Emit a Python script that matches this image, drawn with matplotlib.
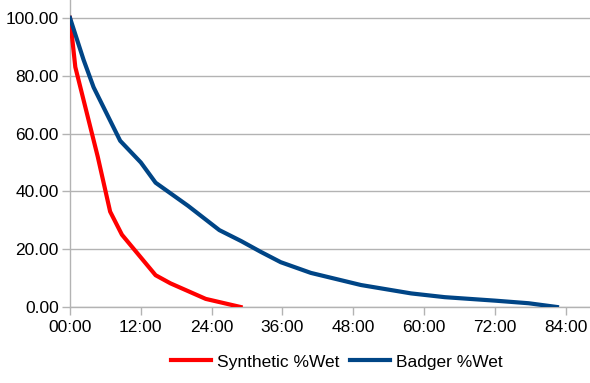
import matplotlib
matplotlib.use("Agg")
import matplotlib.pyplot as plt
from matplotlib.ticker import FuncFormatter, MultipleLocator

# Data (x in hours)
synthetic_hours = [0, 0.9, 4.7, 6.8, 8.8, 14.5, 17.0, 23.0, 28.9]
synthetic_wet = [100, 83, 52, 33, 25, 11, 8.2, 2.8, 0.0]

badger_hours = [0, 2.3, 4.0, 8.5, 12.0, 14.5, 20.0, 25.3, 29.0, 32.3, 35.7,
                40.8, 49.3, 57.8, 63.5, 72.0, 77.7, 82.5]
badger_wet = [100, 85.5, 76, 57.5, 50, 43, 35, 26.6, 22.8, 19.1, 15.5,
              11.8, 7.6, 4.7, 3.4, 2.2, 1.3, 0.0]

series_labels = ["Synthetic %Wet", "Badger %Wet"]
y_ticks = [0, 20, 40, 60, 80, 100]

plt.rcParams['font.family'] = ['Liberation Sans', 'DejaVu Sans']

fig = plt.figure(figsize=(5.9, 3.83), dpi=100)
ax = fig.add_axes([70/590, 1 - 307/383, 520/590, 307/383])

grid_c = '#b3b3b3'
ax.plot(synthetic_hours, synthetic_wet, color='#ff0000', lw=3.0,
        label=series_labels[0], solid_joinstyle='round', zorder=3)
ax.plot(badger_hours, badger_wet, color='#004586', lw=3.0,
        label=series_labels[1], solid_joinstyle='round', zorder=3)

ax.set_xlim(0, 88.1)
ax.set_ylim(0, 106.2)
ax.set_yticks(y_ticks)
ax.yaxis.set_major_formatter(FuncFormatter(lambda v, p: f"{v:.2f}"))
ax.xaxis.set_major_locator(MultipleLocator(12))
ax.xaxis.set_major_formatter(FuncFormatter(lambda v, p: f"{int(round(v)):02d}:00"))

ax.grid(axis='y', color=grid_c, lw=1.0)
ax.set_axisbelow(True)
for s in ['top', 'right']:
    ax.spines[s].set_visible(False)
for s in ['left', 'bottom']:
    ax.spines[s].set_color(grid_c)
    ax.spines[s].set_linewidth(1.0)
ax.tick_params(axis='both', colors=grid_c, length=6, width=1.0,
               labelcolor='black', labelsize=12.5)
ax.tick_params(axis='y', pad=2)
ax.tick_params(axis='x', pad=3)

fig.legend(loc='center', bbox_to_anchor=(337/590, 1 - 362/383), ncol=2,
           frameon=False, fontsize=12.5, handlelength=2.3, handletextpad=0.35,
           columnspacing=0.6)

fig.savefig("out.png", dpi=100)
